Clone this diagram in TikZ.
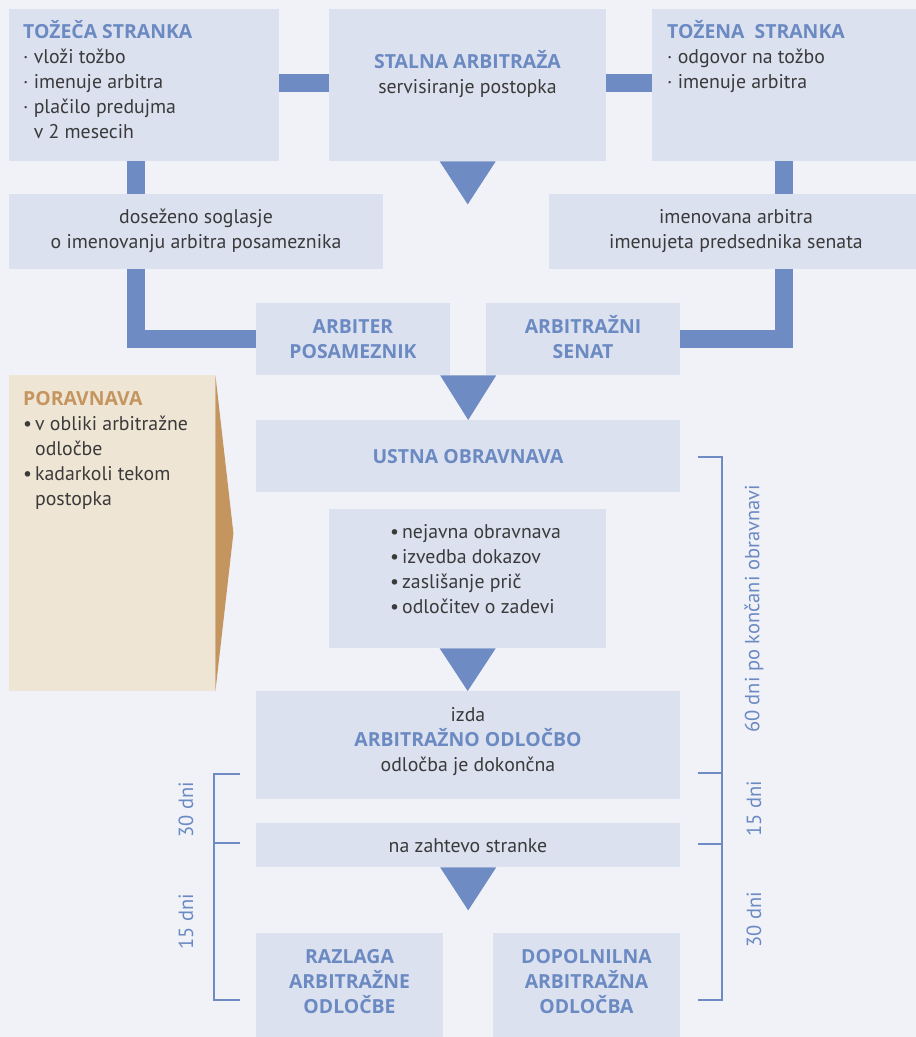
\documentclass[tikz,border=0pt]{standalone}
\usepackage{fontspec}
\setmainfont{PT Sans}
\newfontfamily\ttlfam{Open Sans}
\usetikzlibrary{calc}
\definecolor{bgc}{HTML}{F0F2F8}
\definecolor{boxc}{HTML}{DCE1F0}
\definecolor{barc}{HTML}{6E8CC3}
\definecolor{titc}{HTML}{6B8AC2}
\definecolor{txtc}{HTML}{3A3A3A}
\definecolor{beigec}{HTML}{EFE5D5}
\definecolor{ochrec}{HTML}{C4955F}
\newcommand{\ttlx}[1]{{\ttlfam\fontsize{19.4}{25}\selectfont\bfseries\color{titc}#1}}
\newcommand{\bul}{•\hspace{3pt}}
\begin{document}
\begin{tikzpicture}[x=1pt,y=-1pt,
  box/.style={fill=boxc, draw=none, inner sep=0pt, anchor=north west},
  body/.style={font=\fontsize{19.8}{25}\selectfont, text=txtc, inner sep=0pt},
  ttl/.style={font=\ttlfam\fontsize{19.4}{25}\selectfont\bfseries, text=titc, inner sep=0pt},
  bar/.style={draw=barc, line width=18pt, line join=miter, line cap=butt},
  tri/.style={fill=barc},
  brk/.style={draw=barc, line width=2pt},
  dlabel/.style={font=\fontsize{20.5}{25}\selectfont, text=titc, rotate=90, inner sep=0pt}]
\fill[bgc] (0,0) rectangle (916,1037);
\useasboundingbox (0,0) rectangle (916,1037);
% boxes
\node[box, minimum width=270pt, minimum height=152pt] (tozeca) at (9,9) {};
\node[box, minimum width=277pt, minimum height=152pt] (stalna) at (329,9) {};
\node[box, minimum width=264pt, minimum height=152pt] (tozena) at (652,9) {};
\node[box, minimum width=374pt, minimum height=75pt] (dosezeno) at (9,194) {};
\node[box, minimum width=367pt, minimum height=75pt] (imenovana) at (549,194) {};
\node[box, minimum width=194pt, minimum height=72pt] (posameznik) at (256,303) {};
\node[box, minimum width=194pt, minimum height=72pt] (senat) at (486,303) {};
\node[box, minimum width=424pt, minimum height=72pt] (ustna) at (256,420) {};
\node[box, minimum width=277pt, minimum height=139pt] (dokazi) at (329,509) {};
\node[box, minimum width=424pt, minimum height=108pt] (izda) at (256,691) {};
\node[box, minimum width=424pt, minimum height=44pt] (zahtevo) at (256,823) {};
\node[box, minimum width=187pt, minimum height=104pt] (razlaga) at (256,933) {};
\node[box, minimum width=187pt, minimum height=104pt] (dopolnilna) at (493,933) {};
\node[box, fill=beigec, minimum width=206pt, minimum height=316pt] (poravnava) at (9,375) {};
\fill[ochrec] (poravnava.north east) -- ($(poravnava.east)+(18,0)$) -- (poravnava.south east) -- cycle;
% connectors
\coordinate (lx) at (136,0);
\coordinate (rx) at (783.5,0);
\draw[bar] ([yshift=2pt]tozeca.east) -- ([yshift=2pt]stalna.west);
\draw[bar] ([yshift=2pt]stalna.east) -- ([yshift=2pt]tozena.west);
\draw[bar] (tozeca.south -| lx) -- (dosezeno.north -| lx);
\draw[bar] (dosezeno.south -| lx) |- (posameznik.west);
\draw[bar] (tozena.south -| rx) -- (imenovana.north -| rx);
\draw[bar] (imenovana.south -| rx) |- (senat.east);
% triangles
\fill[tri] ($(stalna.south)+(-28,0)$) -- ($(stalna.south)+(28,0)$) -- ($(stalna.south)+(0,43)$) -- cycle;
\coordinate (mid) at ($(posameznik.south east)!0.5!(senat.south west)$);
\fill[tri] ($(mid)+(-28,0)$) -- ($(mid)+(28,0)$) -- (mid |- ustna.north) -- cycle;
\fill[tri] ($(dokazi.south)+(-28,0)$) -- ($(dokazi.south)+(28,0)$) -- (dokazi.south |- izda.north) -- cycle;
\fill[tri] ($(zahtevo.south)+(-28,0)$) -- ($(zahtevo.south)+(28,0)$) -- ($(zahtevo.south)+(0,43)$) -- cycle;
% texts (base anchor = last line baseline)
\node[body, anchor=base west, align=left] (t1) at (23,138) {\ttlx{TOŽEČA STRANKA}\\· vloži tožbo\\· imenuje arbitra\\· plačilo predujma\\\phantom{· }v 2 mesecih};
\node[body, anchor=base, align=center] (t2) at (467.5,93) {\ttlx{STALNA ARBITRAŽA}\\servisiranje postopka};
\node[body, anchor=base west, align=left] (t3) at (667,88) {\ttlx{TOŽENA~~STRANKA}\\· odgovor na tožbo\\· imenuje arbitra};
\node[body, anchor=base, align=center] (t4) at (196,248) {doseženo soglasje\\o imenovanju arbitra posameznika};
\node[body, anchor=base, align=center] (t5) at (736,248) {imenovana arbitra\\imenujeta predsednika senata};
\node[ttl, anchor=base, align=center] (t6) at (353,358) {ARBITER\\POSAMEZNIK};
\node[ttl, anchor=base, align=center] (t7) at (583,358) {ARBITRAŽNI\\SENAT};
\node[ttl, anchor=base] (t8) at (468,463) {USTNA OBRAVNAVA};
\node[body, anchor=base west, align=left] (t9) at (390,613) {\bul nejavna obravnava\\\bul izvedba dokazov\\\bul zaslišanje prič\\\bul odločitev o zadevi};
\node[body, anchor=base, align=center] (t10) at (468,771) {izda\\\ttlx{ARBITRAŽNO ODLOČBO}\\odločba je dokončna};
\node[body, anchor=base] (t11) at (468,852) {na zahtevo stranke};
\node[ttl, anchor=base, align=center] (t12) at (349.5,1013) {RAZLAGA\\ARBITRAŽNE\\ODLOČBE};
\node[ttl, anchor=base, align=center] (t13) at (586.5,1013) {DOPOLNILNA\\ARBITRAŽNA\\ODLOČBA};
\node[body, anchor=base west, align=left] (t14) at (23,505) {{\ttlfam\fontsize{19.4}{25}\selectfont\bfseries\color{ochrec}PORAVNAVA}\\\bul v obliki arbitražne\\\phantom{\bul}odločbe\\\bul kadarkoli tekom\\\phantom{\bul}postopka};
% brackets
\draw[brk] (698,457) -- (722,457) -- (722,1000) -- (698,1000);
\draw[brk] (698,773) -- (722,773);
\draw[brk] (698,844) -- (722,844);
\draw[brk] (240,774) -- (214,774) -- (214,1000) -- (240,1000);
\draw[brk] (214,843) -- (240,843);
\node[dlabel] (l1) at (754,609) {60 dni po končani obravnavi};
\node[dlabel] (l2) at (754,809) {15 dni};
\node[dlabel] (l3) at (754,920) {30 dni};
\node[dlabel] (l4) at (186,810) {30 dni};
\node[dlabel] (l5) at (186,922) {15 dni};
\end{tikzpicture}
\end{document}
